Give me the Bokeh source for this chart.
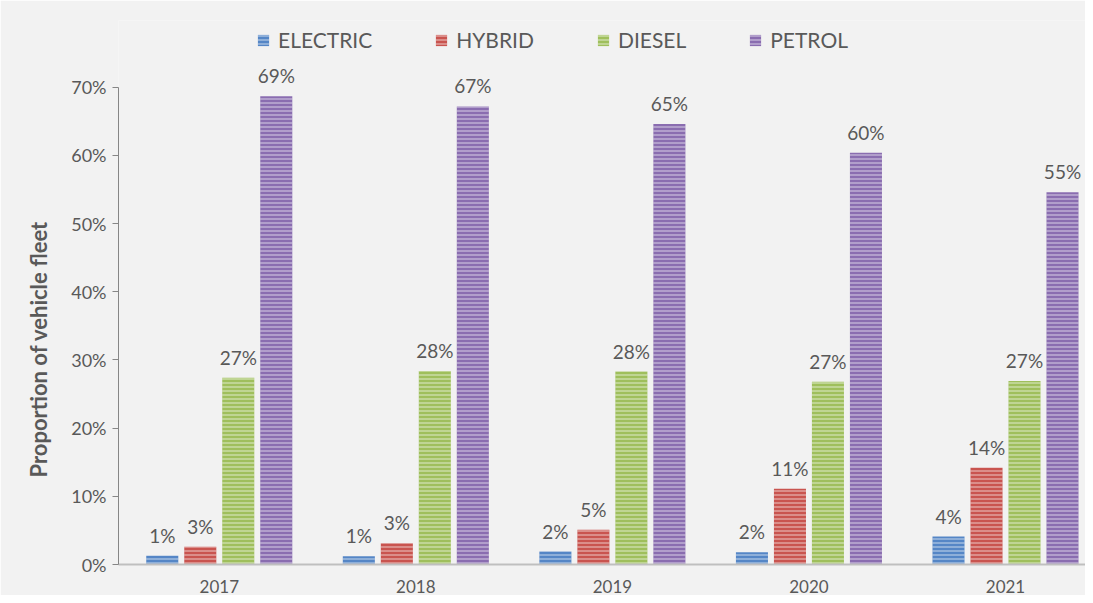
from bokeh.plotting import figure
from bokeh.models import (ColumnDataSource, Range1d, FixedTicker, PrintfTickFormatter,
                          Legend, LegendItem, LabelSet, Title)
from bokeh.core.properties import value
from bokeh.embed import file_html
from bokeh.resources import INLINE

years = ["2017", "2018", "2019", "2020", "2021"]
electric = [1.3, 1.2, 1.9, 1.8, 4.1]
hybrid = [2.6, 3.1, 5.1, 11.1, 14.2]
diesel = [27.4, 28.4, 28.3, 26.8, 26.9]
petrol = [68.7, 67.2, 64.6, 60.4, 54.6]
series_names = ["ELECTRIC", "HYBRID", "DIESEL", "PETROL"]
series_values = [electric, hybrid, diesel, petrol]
colors = ["#5586c6", "#c9544f", "#9fbf5c", "#8a6db0"]
y_ticks = [0, 10, 20, 30, 40, 50, 60, 70]

offsets = [-0.29, -0.0966, 0.0966, 0.29]
bar_w = 0.163

p = figure(width=1085, height=595, output_backend="svg", toolbar_location=None,
           title=None, x_range=Range1d(-0.0127, 4.907), y_range=Range1d(0, 79.8),
           min_border_left=118, min_border_right=0, min_border_top=20,
           min_border_bottom=30)
p.background_fill_color = "#f2f2f2"
p.border_fill_color = "#f2f2f2"
p.outline_line_color = None
p.xgrid.grid_line_color = None
p.ygrid.grid_line_color = None

items = []
for name, vals, col, off in zip(series_names, series_values, colors, offsets):
    src = ColumnDataSource(dict(
        x=[i + 0.5 + off for i in range(len(years))],
        top=vals,
        label=[f"{round(v)}%" for v in vals],
    ))
    r = p.vbar(x="x", top="top", width=bar_w, source=src, fill_color=col,
               line_color=None, hatch_pattern="horizontal_line", hatch_color="white",
               hatch_alpha=0.45, hatch_scale=4, hatch_weight=1.5)
    items.append(LegendItem(label=name, renderers=[r]))
    p.add_layout(LabelSet(x="x", y="top", text="label", source=src, y_offset=13,
                          text_align="center", text_baseline="alphabetic",
                          text_font=value("Lato"), text_font_size="19px",
                          text_color="#595959"))

legend = Legend(items=items, orientation="horizontal", location=(138, 512),
                padding=0, margin=0, spacing=62, label_standoff=8,
                glyph_width=14, glyph_height=14, border_line_color=None,
                background_fill_alpha=0, label_text_font="Lato",
                label_text_font_size="21px", label_text_color="#595959")
p.add_layout(legend)

yax = p.yaxis[0]
yax.ticker = FixedTicker(ticks=y_ticks)
yax.formatter = PrintfTickFormatter(format="%d%%")
yax.bounds = (0, 70)
yax.axis_line_color = "#868686"
yax.major_tick_line_color = "#868686"
yax.major_tick_in = 0
yax.major_tick_out = 6
yax.minor_tick_line_color = None
yax.major_label_standoff = 6
yax.major_label_text_font = "Lato"
yax.major_label_text_font_size = "18px"
yax.major_label_text_color = "#595959"

xax = p.xaxis[0]
xax.ticker = FixedTicker(ticks=[i + 0.5 for i in range(len(years))])
xax.major_label_overrides = {i + 0.5: y for i, y in enumerate(years)}
xax.axis_line_color = "#bfbfbf"
xax.axis_line_width = 2
xax.major_tick_line_color = None
xax.minor_tick_line_color = None
xax.major_label_standoff = 9
xax.major_label_text_font = "Lato"
xax.major_label_text_font_size = "17px"
xax.major_label_text_color = "#595959"

ytitle = Title(text="Proportion of vehicle fleet", align="left", offset=87,
               standoff=34, text_font="Lato", text_font_style="bold",
               text_font_size="22px", text_color="#595959")
p.add_layout(ytitle, "left")

open("out.html", "w").write(file_html(p, INLINE))
